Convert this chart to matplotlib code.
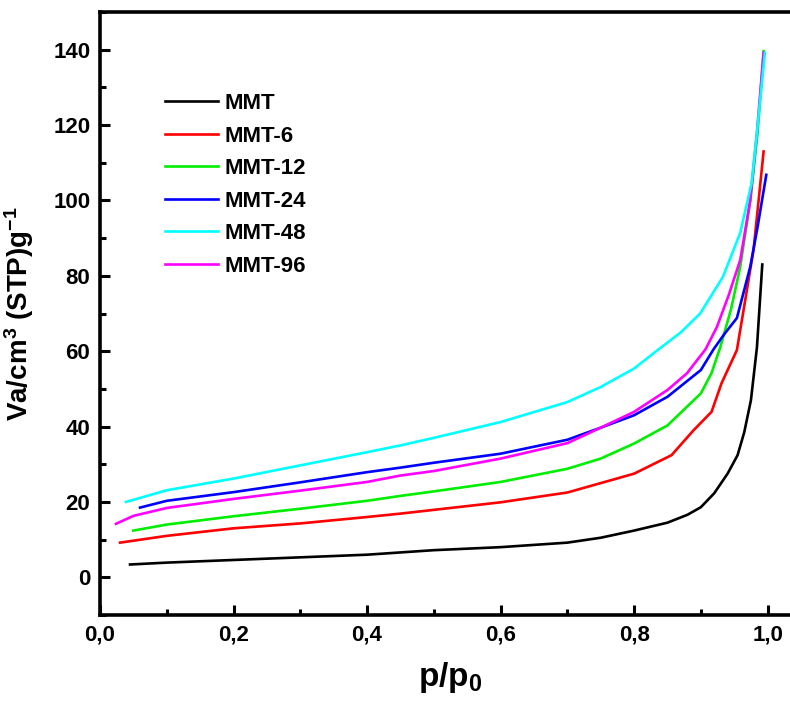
import numpy as np
import matplotlib
matplotlib.use('Agg')
import matplotlib.pyplot as plt
from matplotlib.ticker import MultipleLocator, FuncFormatter

plt.rcParams['font.family'] = ['Liberation Sans', 'DejaVu Sans']
plt.rcParams['font.weight'] = 'bold'
plt.rcParams['mathtext.fontset'] = 'custom'
plt.rcParams['mathtext.rm'] = 'Liberation Sans:bold'
plt.rcParams['mathtext.bf'] = 'Liberation Sans:bold'
plt.rcParams['mathtext.default'] = 'rm'

# isotherm data: relative pressure p/p0 vs adsorbed volume
x_mmt = [0.045, 0.1, 0.2, 0.3, 0.4, 0.45, 0.5, 0.6, 0.7, 0.75, 0.8, 0.85, 0.88, 0.9, 0.92, 0.94, 0.955, 0.965, 0.975, 0.984, 0.992]
y_mmt = [3.4, 3.9, 4.6, 5.3, 6.0, 6.6, 7.2, 8.0, 9.2, 10.5, 12.4, 14.5, 16.6, 18.6, 22.3, 27.5, 32.4, 38.5, 47, 61, 83]

x_mmt6 = [0.03, 0.1, 0.2, 0.3, 0.4, 0.45, 0.5, 0.6, 0.7, 0.75, 0.8, 0.856, 0.889, 0.916, 0.931, 0.954, 0.965, 0.979, 0.994]
y_mmt6 = [9.2, 11.0, 13.0, 14.3, 16.0, 16.9, 17.9, 19.9, 22.5, 25.0, 27.5, 32.4, 39, 43.9, 51.5, 60.3, 72, 87, 113]

x_mmt12 = [0.05, 0.1, 0.2, 0.3, 0.4, 0.45, 0.5, 0.6, 0.7, 0.75, 0.8, 0.85, 0.9, 0.916, 0.929, 0.945, 0.959, 0.974, 0.985, 0.994]
y_mmt12 = [12.4, 14.0, 16.2, 18.2, 20.3, 21.6, 22.8, 25.3, 28.8, 31.5, 35.5, 40.3, 48.8, 54.2, 61, 71, 82.4, 100, 118, 139.6]

x_mmt24 = [0.06, 0.1, 0.2, 0.3, 0.4, 0.45, 0.5, 0.6, 0.7, 0.75, 0.8, 0.85, 0.9, 0.919, 0.935, 0.954, 0.974, 0.985, 0.998]
y_mmt24 = [18.5, 20.3, 22.6, 25.2, 27.9, 29.1, 30.4, 32.8, 36.5, 39.7, 43, 47.9, 55, 60.5, 64.5, 68.8, 82.4, 93, 106.8]

x_mmt48 = [0.039, 0.1, 0.2, 0.3, 0.4, 0.45, 0.5, 0.6, 0.7, 0.75, 0.8, 0.839, 0.87, 0.899, 0.933, 0.959, 0.976, 0.984, 0.996]
y_mmt48 = [20, 23.1, 26.2, 29.7, 33.2, 35.0, 37.0, 41.2, 46.5, 50.5, 55.4, 60.8, 65, 70, 79.7, 91.4, 104.6, 118, 139.2]

x_mmt96 = [0.024, 0.05, 0.1, 0.2, 0.3, 0.4, 0.45, 0.5, 0.6, 0.7, 0.75, 0.8, 0.85, 0.879, 0.907, 0.924, 0.942, 0.959, 0.974, 0.984, 0.994]
y_mmt96 = [14.2, 16.3, 18.4, 20.8, 23.0, 25.3, 27.0, 28.2, 31.5, 35.6, 39.7, 43.9, 49.7, 54.1, 60.5, 66.4, 75, 84.2, 100, 118, 139.2]

labels = ['MMT', 'MMT-6', 'MMT-12', 'MMT-24', 'MMT-48', 'MMT-96']
colors = ['black', 'red', '#00ee00', 'blue', 'cyan', 'magenta']
xs = [x_mmt, x_mmt6, x_mmt12, x_mmt24, x_mmt48, x_mmt96]
ys = [y_mmt, y_mmt6, y_mmt12, y_mmt24, y_mmt48, y_mmt96]

fig = plt.figure(figsize=(7.9, 7.09), dpi=100)
# axes runs past the right edge, like the cropped original
ax = fig.add_axes([100/790, 94/709, 701/790, 603/709])

# draw in an order so the lower lines end up underneath
for i in [0, 1, 2, 3, 5, 4]:
    ax.plot(xs[i], ys[i], color=colors[i], lw=1.9, label=labels[i])

ax.set_xlim(0, 1.05)
ax.set_ylim(-10, 150)

ax.xaxis.set_major_locator(MultipleLocator(0.2))
ax.xaxis.set_minor_locator(MultipleLocator(0.1))
ax.yaxis.set_major_locator(MultipleLocator(20))
ax.yaxis.set_minor_locator(MultipleLocator(10))
ax.xaxis.set_major_formatter(FuncFormatter(lambda v, p: ('%.1f' % v).replace('.', ',')))

ax.tick_params(which='both', direction='in', top=False, right=False, width=2.2, labelsize=16, pad=7)
ax.tick_params(which='major', length=7)
ax.tick_params(which='minor', length=4)
for s in ax.spines.values():
    s.set_linewidth(2.6)

ax.set_ylabel(r'Va/cm$^3$ (STP)g$^{-1}$', fontsize=20, fontweight='bold', labelpad=12)
ax.set_xlabel(r'p/p$_0$', fontsize=24, fontweight='bold', labelpad=10)

h, l = ax.get_legend_handles_labels()
order = [l.index(n) for n in labels]
ax.legend([h[k] for k in order], labels, frameon=False, fontsize=16,
          handlelength=2.4, handletextpad=0.3, labelspacing=0.52,
          borderpad=0, borderaxespad=0, loc='upper left',
          bbox_to_anchor=(165/790, 1 - 93/709), bbox_transform=fig.transFigure)

fig.savefig('out.png', dpi=100)
